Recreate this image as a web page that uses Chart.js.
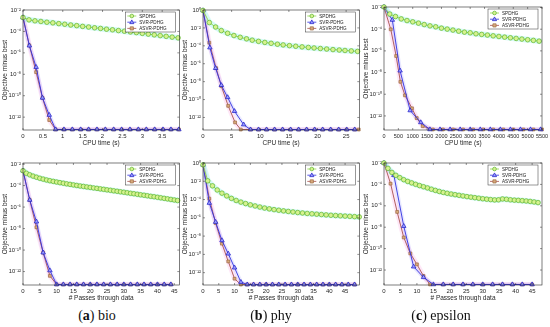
<!DOCTYPE html>
<html>
<head>
<meta charset="utf-8">
<script src="https://cdn.jsdelivr.net/npm/chart.js@4.4.0/dist/chart.umd.min.js"></script>
<style>
body { margin: 0; background: #fff; }
#fig { position: relative; width: 550px; height: 327px; overflow: hidden; background: #fff; }
canvas { position: absolute; }
.cap { position: absolute; top: 308px; line-height: 15px; font-size: 14px; font-family: "Liberation Serif", serif; color: #111; transform: translateX(-50%); white-space: nowrap; }
</style>
</head>
<body>
<div id="fig">
  <canvas id="c1" width="184" height="148" style="left:0px;top:0px"></canvas>
  <canvas id="c2" width="184" height="148" style="left:180px;top:0px"></canvas>
  <canvas id="c3" width="189" height="148" style="left:361px;top:0px"></canvas>
  <canvas id="c4" width="184" height="153" style="left:0px;top:150px"></canvas>
  <canvas id="c5" width="184" height="153" style="left:180px;top:150px"></canvas>
  <canvas id="c6" width="189" height="153" style="left:361px;top:150px"></canvas>
  <div class="cap" style="left:97px">(<b>a</b>) bio</div>
  <div class="cap" style="left:271px">(<b>b</b>) phy</div>
  <div class="cap" style="left:441px">(<b>c</b>) epsilon</div>
</div>
<script>
// values are log10(objective minus best)
const seriesNames = ['SPDHG', 'SVR-PDHG', 'ASVR-PDHG'];

// (a) bio, CPU time
const bioTimeSpdhgX = [0, 0.15, 0.3, 0.45, 0.6, 0.75, 0.9, 1.05, 1.2, 1.35, 1.5, 1.65, 1.8, 1.95, 2.1, 2.25, 2.4, 2.55, 2.7, 2.85, 3, 3.15, 3.3, 3.45, 3.6, 3.75, 3.9];
const bioTimeSpdhg = [-2.7, -2.92, -3.01, -3.07, -3.14, -3.2, -3.27, -3.33, -3.4, -3.46, -3.53, -3.59, -3.66, -3.72, -3.79, -3.85, -3.92, -3.98, -4.05, -4.11, -4.18, -4.25, -4.32, -4.39, -4.46, -4.53, -4.6];
const bioTimeSvrX = [0, 0.16, 0.33, 0.49, 0.66, 0.82, 1.03, 1.24, 1.45, 1.65, 1.86, 2.07, 2.28, 2.48, 2.69, 2.9, 3.1, 3.31, 3.52, 3.72, 3.92];
const bioTimeSvr = [-2.7, -5.33, -7.33, -10.2, -11.8, -13.15, -13.15, -13.15, -13.15, -13.15, -13.15, -13.15, -13.15, -13.15, -13.15, -13.15, -13.15, -13.15, -13.15, -13.15, -13.15];
const bioTimeAsvrX = [0, 0.16, 0.33, 0.49, 0.66, 0.82, 1.03, 1.24, 1.45, 1.65, 1.86, 2.07, 2.28, 2.48, 2.69, 2.9, 3.1, 3.31, 3.52, 3.72, 3.92];
const bioTimeAsvr = [-2.7, -5.3, -7.8, -10.2, -12.27, -13.15, -13.15, -13.15, -13.15, -13.15, -13.15, -13.15, -13.15, -13.15, -13.15, -13.15, -13.15, -13.15, -13.15, -13.15, -13.15];

// (b) phy, CPU time
const phyTimeSpdhgX = [0, 1.1, 2.2, 3.2, 4.3, 5.4, 6.5, 7.6, 8.6, 9.7, 10.8, 11.9, 13, 14, 15.1, 16.2, 17.3, 18.4, 19.4, 20.5, 21.6, 22.7, 23.8, 24.8, 25.9, 27];
const phyTimeSpdhg = [-0.05, -1.4, -1.9, -2.3, -2.6, -2.85, -3.05, -3.22, -3.37, -3.5, -3.62, -3.72, -3.82, -3.9, -3.98, -4.05, -4.12, -4.18, -4.24, -4.3, -4.36, -4.42, -4.47, -4.52, -4.57, -4.62];
const phyTimeSvrX = [0, 1.2, 2.2, 3.2, 4.3, 5.5, 7.1, 8.3, 9.7, 11.1, 12.5, 13.9, 15.3, 16.7, 18.1, 19.5, 20.9, 22.3, 23.7, 25.1, 26.5];
const phyTimeSvr = [-0.05, -4.2, -6.5, -8.4, -9.75, -11.3, -12.8, -13.35, -13.35, -13.35, -13.35, -13.35, -13.35, -13.35, -13.35, -13.35, -13.35, -13.35, -13.35, -13.35, -13.35];
const phyTimeAsvrX = [0, 1.1, 2.3, 3.2, 4.4, 5.6, 6.6, 8.3, 9.7, 11.1, 12.5, 13.9, 15.3, 16.7, 18.1, 19.5, 20.9, 22.3, 23.7, 25.1, 26.5, 27.2];
const phyTimeAsvr = [-0.05, -3.65, -6.5, -8.5, -10.7, -12.55, -13.35, -13.35, -13.35, -13.35, -13.35, -13.35, -13.35, -13.35, -13.35, -13.35, -13.35, -13.35, -13.35, -13.35, -13.35, -13.35];

// (c) epsilon, CPU time
const epsTimeSpdhgX = [0, 200, 400, 600, 800, 1000, 1200, 1400, 1600, 1800, 2000, 2200, 2400, 2600, 2800, 3000, 3200, 3400, 3600, 3800, 4000, 4200, 4400, 4600, 4800, 5000, 5200, 5400];
const epsTimeSpdhg = [-1.95, -2.6, -2.83, -3.05, -3.2, -3.32, -3.44, -3.57, -3.69, -3.78, -3.9, -3.99, -4.08, -4.18, -4.27, -4.33, -4.42, -4.48, -4.54, -4.61, -4.67, -4.73, -4.79, -4.85, -4.91, -4.97, -5.03, -5.1];
const epsTimeSvrX = [0, 290, 560, 910, 1280, 1600, 1950, 2300, 2650, 3000, 3350, 3700, 4050, 4400, 4750, 5100, 5450];
const epsTimeSvr = [-1.95, -3.15, -7.83, -11.5, -12.6, -13.25, -13.25, -13.25, -13.25, -13.25, -13.25, -13.25, -13.25, -13.25, -13.25, -13.25, -13.25];
const epsTimeAsvrX = [0, 235, 423, 570, 731, 975, 1138, 1347, 1700, 2050, 2400, 2750, 3100, 3450, 3800, 4150, 4500, 4850, 5200, 5500];
const epsTimeAsvr = [-1.95, -4.01, -6.47, -8.85, -10.1, -11.3, -12.2, -12.95, -13.25, -13.25, -13.25, -13.25, -13.25, -13.25, -13.25, -13.25, -13.25, -13.25, -13.25, -13.25];

// (a) bio, passes
const bioPassSpdhgX = [0, 1, 2, 3, 4, 5, 6, 7, 8, 9, 10, 11, 12, 13, 14, 15, 16, 17, 18, 19, 20, 21, 22, 23, 24, 25, 26, 27, 28, 29, 30, 31, 32, 33, 34, 35, 36, 37, 38, 39, 40, 41, 42, 43, 44, 45, 46];
const bioPassSpdhg = [-2.62, -2.85, -3.0, -3.12, -3.22, -3.32, -3.4, -3.48, -3.55, -3.61, -3.67, -3.73, -3.78, -3.84, -3.89, -3.94, -3.99, -4.04, -4.08, -4.13, -4.17, -4.22, -4.26, -4.31, -4.35, -4.4, -4.44, -4.49, -4.53, -4.58, -4.62, -4.67, -4.72, -4.76, -4.81, -4.86, -4.9, -4.95, -5.0, -5.04, -5.09, -5.14, -5.19, -5.24, -5.29, -5.34, -5.39];
const bioPassSvrX = [0, 2, 4, 6, 8, 10, 12, 14, 16, 18, 20, 22, 24, 26, 28, 30, 32, 34, 36, 38, 40, 42, 44];
const bioPassSvr = [-2.62, -5.34, -7.36, -10.24, -11.9, -13.2, -13.2, -13.2, -13.2, -13.2, -13.2, -13.2, -13.2, -13.2, -13.2, -13.2, -13.2, -13.2, -13.2, -13.2, -13.2, -13.2, -13.2];
const bioPassAsvrX = [0, 2, 4, 6, 8, 10, 12, 14, 16, 18, 20, 22, 24, 26, 28, 30, 32, 34, 36, 38, 40, 42, 44];
const bioPassAsvr = [-2.62, -5.34, -7.88, -10.24, -12.4, -13.2, -13.2, -13.2, -13.2, -13.2, -13.2, -13.2, -13.2, -13.2, -13.2, -13.2, -13.2, -13.2, -13.2, -13.2, -13.2, -13.2, -13.2];

// (b) phy, passes
const phyPassSpdhgX = [0, 1.5, 3, 4.5, 6, 7.5, 9, 10.5, 12, 13.5, 15, 16.5, 18, 19.5, 21, 22.5, 24, 25.5, 27, 28.5, 30, 31.5, 33, 34.5, 36, 37.5, 39, 40.5, 42, 43.5, 45, 46.5, 48, 49.5];
const phyPassSpdhg = [-0.2, -1.95, -2.5, -2.95, -3.3, -3.6, -3.87, -4.1, -4.28, -4.44, -4.58, -4.7, -4.82, -4.93, -5.02, -5.1, -5.17, -5.24, -5.3, -5.36, -5.42, -5.47, -5.52, -5.56, -5.6, -5.64, -5.68, -5.72, -5.75, -5.78, -5.81, -5.84, -5.87, -5.9];
const phyPassSvrX = [0, 2, 4, 6, 8, 10, 12, 14, 16, 18, 20, 22, 24, 26, 28, 30, 32, 34, 36, 38, 40, 42, 44, 46, 48];
const phyPassSvr = [-0.2, -4.38, -6.46, -8.47, -9.93, -11.46, -13.03, -13.3, -13.3, -13.3, -13.3, -13.3, -13.3, -13.3, -13.3, -13.3, -13.3, -13.3, -13.3, -13.3, -13.3, -13.3, -13.3, -13.3, -13.3];
const phyPassAsvrX = [0, 2, 4, 6, 8, 10, 12, 14, 16, 18, 20, 22, 24, 26, 28, 30, 32, 34, 36, 38, 40, 42, 44, 46, 48];
const phyPassAsvr = [-0.2, -3.9, -6.57, -8.83, -10.77, -12.66, -13.3, -13.3, -13.3, -13.3, -13.3, -13.3, -13.3, -13.3, -13.3, -13.3, -13.3, -13.3, -13.3, -13.3, -13.3, -13.3, -13.3, -13.3, -13.3];

// (c) epsilon, passes
const epsPassSpdhgX = [0, 1.2, 2.4, 3.6, 4.8, 6, 7.2, 8.4, 9.6, 10.8, 12, 13.2, 14.4, 15.6, 16.8, 18, 19.2, 20.4, 21.6, 22.8, 24, 25.2, 26.4, 27.6, 28.8, 30, 31.2, 32.4, 33.6, 34.8, 36, 37.2, 38.4, 39.6, 40.8, 42, 43.2, 44.4, 45.6, 46.8];
const epsPassSpdhg = [-2.0, -2.5, -2.88, -3.15, -3.37, -3.56, -3.72, -3.86, -3.99, -4.11, -4.22, -4.33, -4.45, -4.56, -4.66, -4.75, -4.83, -4.9, -4.96, -5.02, -5.08, -5.14, -5.19, -5.24, -5.29, -5.34, -5.38, -5.42, -5.45, -5.44, -5.36, -5.39, -5.44, -5.47, -5.49, -5.52, -5.55, -5.59, -5.64, -5.7];
const epsPassSvrX = [0, 3, 6, 9, 12, 15, 18, 21, 24, 27, 30, 33, 36, 39, 42, 45];
const epsPassSvr = [-2.0, -3.15, -7.9, -11.69, -12.68, -13.35, -13.35, -13.35, -13.35, -13.35, -13.35, -13.35, -13.35, -13.35, -13.35, -13.35];
const epsPassAsvrX = [0, 2, 4, 6, 8, 10, 12, 14, 18, 21, 24, 27, 30, 33, 36, 39, 42, 45];
const epsPassAsvr = [-2.0, -3.93, -6.57, -8.96, -10.45, -11.47, -12.56, -13.35, -13.35, -13.35, -13.35, -13.35, -13.35, -13.35, -13.35, -13.35, -13.35, -13.35];

// tick values
const bioTimeTicks = [0, 0.5, 1, 1.5, 2, 2.5, 3, 3.5];
const phyTimeTicks = [0, 5, 10, 15, 20, 25];
const epsTimeTicks = [0, 500, 1000, 1500, 2000, 2500, 3000, 3500, 4000, 4500, 5000, 5500];
const passTicks = [0, 5, 10, 15, 20, 25, 30, 35, 40, 45];
const decadeTicks = [-12, -10, -8, -6, -4, -2];
const decadeTicksTo0 = [-12, -10, -8, -6, -4, -2, 0];

const FONT = '"Liberation Sans", Arial, sans-serif';
const INK = '#262626';

const styles = [
    { line: '#8fd444', band: 'rgba(90,235,225,0.25)', bandWidth: 6, shape: 'circle', edge: '#5cb52c', face: '#d6f290', r: 2.3 },
    { line: '#3030e0', band: 'rgba(120,120,255,0.16)', bandWidth: 4, shape: 'triangle', edge: '#1a1ac4', face: '#9c9cff', r: 2.6 },
    { line: '#a8504f', band: 'rgba(250,120,210,0.18)', bandWidth: 5, shape: 'rect', edge: '#9c6a44', face: '#d8aa7c', r: 2.0 }
];

const SUP = { '0': '⁰', '1': '¹', '2': '²', '3': '³', '4': '⁴', '5': '⁵', '6': '⁶', '7': '⁷', '8': '⁸', '9': '⁹', '-': '⁻' };
function supLabel(v) {
    const e = Math.round(Math.log10(v));
    return '10' + String(e).split('').map(c => SUP[c]).join('');
}

function toPoints(xs, es) {
    return xs.map((x, i) => ({ x: x, y: Math.pow(10, es[i]) }));
}

function drawMarker(ctx, shape, x, y, r, edge, face) {
    ctx.beginPath();
    if (shape === 'circle') {
        ctx.arc(x, y, r, 0, Math.PI * 2);
    } else if (shape === 'triangle') {
        ctx.moveTo(x, y - r * 1.1);
        ctx.lineTo(x + r, y + r * 0.7);
        ctx.lineTo(x - r, y + r * 0.7);
        ctx.closePath();
    } else {
        ctx.rect(x - r, y - r, r * 2, r * 2);
    }
    ctx.fillStyle = face;
    ctx.fill();
    ctx.strokeStyle = edge;
    ctx.lineWidth = 0.7;
    ctx.stroke();
}

// box around the axes, inward ticks and the legend inside the plot
const framePlugin = {
    id: 'frame',
    afterDraw(chart) {
        const { ctx, chartArea: a, scales } = chart;
        ctx.save();
        ctx.strokeStyle = INK;
        ctx.lineWidth = 0.6;
        ctx.strokeRect(a.left, a.top, a.right - a.left, a.bottom - a.top);
        ctx.lineWidth = 0.5;
        ctx.beginPath();
        scales.x.ticks.forEach(t => {
            const px = scales.x.getPixelForValue(t.value);
            ctx.moveTo(px, a.bottom); ctx.lineTo(px, a.bottom - 2);
            ctx.moveTo(px, a.top); ctx.lineTo(px, a.top + 2);
        });
        scales.y.ticks.forEach(t => {
            const py = scales.y.getPixelForValue(t.value);
            ctx.moveTo(a.left, py); ctx.lineTo(a.left + 2, py);
            ctx.moveTo(a.right, py); ctx.lineTo(a.right - 2, py);
        });
        ctx.stroke();

        const bw = 50, bh = 20;
        const bx = a.right - bw - 4, by = a.top + 2;
        ctx.fillStyle = '#fff';
        ctx.fillRect(bx, by, bw, bh);
        ctx.strokeStyle = '#333';
        ctx.lineWidth = 0.5;
        ctx.strokeRect(bx, by, bw, bh);
        chart.data.datasets.filter(d => !d.band).forEach((d, i) => {
            const y = by + 4 + i * 6.2;
            ctx.strokeStyle = d.borderColor;
            ctx.lineWidth = 0.8;
            ctx.beginPath();
            ctx.moveTo(bx + 2, y); ctx.lineTo(bx + 11, y);
            ctx.stroke();
            drawMarker(ctx, d.shape, bx + 6.5, y, d.pointRadius * 0.8, d.pointBorderColor, d.pointBackgroundColor);
            ctx.fillStyle = '#222';
            ctx.font = '4.6px ' + FONT;
            ctx.textBaseline = 'middle';
            ctx.textAlign = 'left';
            ctx.fillText(d.label, bx + 14, y + 0.3);
        });
        ctx.restore();
    }
};

function makePanel(p) {
    const datasets = [];
    p.series.forEach((s, i) => {
        const st = styles[i];
        datasets.push({
            band: true, data: toPoints(s[0], s[1]), borderColor: st.band, borderWidth: st.bandWidth,
            pointRadius: 0, borderCapStyle: 'round', borderJoinStyle: 'round', order: 10 + i
        });
    });
    p.series.forEach((s, i) => {
        const st = styles[i];
        datasets.push({
            label: seriesNames[i], shape: st.shape, data: toPoints(s[0], s[1]),
            borderColor: st.line, borderWidth: 0.9,
            pointStyle: st.shape, pointRadius: st.r, pointBorderColor: st.edge,
            pointBackgroundColor: st.face, pointBorderWidth: 0.7, order: 1 + i, clip: 4
        });
    });

    new Chart(document.getElementById(p.id), {
        type: 'line',
        data: { datasets: datasets },
        options: {
            responsive: false,
            animation: false,
            devicePixelRatio: 1,
            layout: { padding: { top: p.padTop, right: p.padRight, left: 0, bottom: 0 } },
            plugins: { legend: { display: false }, tooltip: { enabled: false } },
            scales: {
                x: {
                    type: 'linear', bounds: 'data', min: 0, max: p.xMax,
                    grid: { display: false, drawTicks: false }, border: { display: false },
                    afterBuildTicks: s => { s.ticks = p.xTicks.map(v => ({ value: v })); },
                    afterFit: s => { s.height = 18; s.paddingLeft = 0; s.paddingRight = 0; },
                    ticks: { autoSkip: false, maxRotation: 0, padding: 3, color: INK, font: { size: p.xFont || 6, family: FONT }, callback: v => String(v) },
                    title: { display: true, text: p.xTitle, color: INK, font: { size: 6.5, family: FONT }, padding: 1 }
                },
                y: {
                    type: 'logarithmic', bounds: 'data', min: Math.pow(10, p.yMin), max: Math.pow(10, p.yMax),
                    grid: { display: false, drawTicks: false }, border: { display: false },
                    afterBuildTicks: s => { s.ticks = p.yTicks.map(e => ({ value: Math.pow(10, e) })); },
                    afterFit: s => { s.width = 23; s.paddingTop = 0; s.paddingBottom = 0; },
                    ticks: { autoSkip: false, padding: 2, color: INK, font: { size: 5.8, family: FONT }, callback: v => supLabel(v) },
                    title: { display: true, text: 'Objective minus best', color: INK, font: { size: 6.5, family: FONT }, padding: 1 }
                }
            }
        },
        plugins: [framePlugin]
    });
}

const timeTitle = 'CPU time (s)';
const passTitle = '# Passes through data';

makePanel({ id: 'c1', padTop: 10, padRight: 2, xMax: 3.93, xTicks: bioTimeTicks, yMin: -13.2, yMax: -2, yTicks: decadeTicks, xTitle: timeTitle,
    series: [[bioTimeSpdhgX, bioTimeSpdhg], [bioTimeSvrX, bioTimeSvr], [bioTimeAsvrX, bioTimeAsvr]] });
makePanel({ id: 'c2', padTop: 10, padRight: 2, xMax: 27.3, xTicks: phyTimeTicks, yMin: -13.4, yMax: 0, yTicks: decadeTicksTo0, xTitle: timeTitle,
    series: [[phyTimeSpdhgX, phyTimeSpdhg], [phyTimeSvrX, phyTimeSvr], [phyTimeAsvrX, phyTimeAsvr]] });
makePanel({ id: 'c3', padTop: 7, padRight: 8, xMax: 5500, xTicks: epsTimeTicks, xFont: 5.5, yMin: -13.3, yMax: -1.95, yTicks: decadeTicks, xTitle: timeTitle,
    series: [[epsTimeSpdhgX, epsTimeSpdhg], [epsTimeSvrX, epsTimeSvr], [epsTimeAsvrX, epsTimeAsvr]] });
makePanel({ id: 'c4', padTop: 13, padRight: 2, xMax: 46.5, xTicks: passTicks, yMin: -13.25, yMax: -1.9, yTicks: decadeTicks, xTitle: passTitle,
    series: [[bioPassSpdhgX, bioPassSpdhg], [bioPassSvrX, bioPassSvr], [bioPassAsvrX, bioPassAsvr]] });
makePanel({ id: 'c5', padTop: 13, padRight: 2, xMax: 49.5, xTicks: passTicks, yMin: -13.35, yMax: 0, yTicks: decadeTicksTo0, xTitle: passTitle,
    series: [[phyPassSpdhgX, phyPassSpdhg], [phyPassSvrX, phyPassSvr], [phyPassAsvrX, phyPassAsvr]] });
makePanel({ id: 'c6', padTop: 13, padRight: 8, xMax: 48, xTicks: passTicks, yMin: -13.4, yMax: -2, yTicks: decadeTicks, xTitle: passTitle,
    series: [[epsPassSpdhgX, epsPassSpdhg], [epsPassSvrX, epsPassSvr], [epsPassAsvrX, epsPassAsvr]] });
</script>
</body>
</html>
